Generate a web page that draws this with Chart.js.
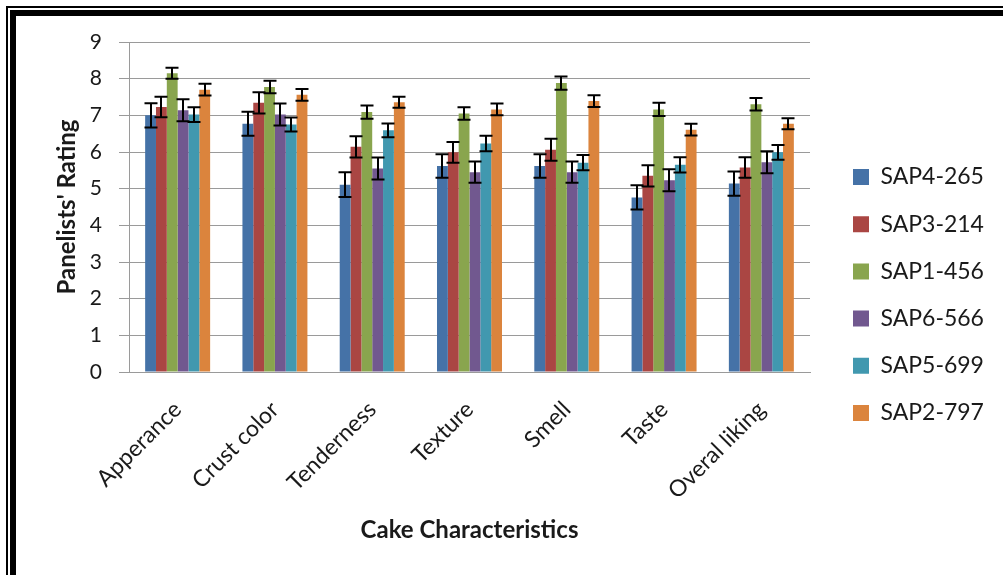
<!DOCTYPE html>
<html><head><meta charset="utf-8">
<script src="https://cdn.jsdelivr.net/npm/chart.js@4.4.1/dist/chart.umd.min.js"></script>
<style>
html,body{margin:0;padding:0;background:#fff;}
#wrap{position:relative;width:1003px;height:575px;overflow:hidden;background:#fff;}
canvas{position:absolute;left:0;top:0;}
.f{position:absolute;background:#000;}
</style></head><body>
<div id="wrap">
<canvas id="c" width="1003" height="575"></canvas>
<div class="f" style="left:6px;top:6px;width:997px;height:2px"></div>
<div class="f" style="left:6px;top:6px;width:2px;height:569px"></div>
<div class="f" style="left:10px;top:10px;width:993px;height:6px"></div>
<div class="f" style="left:10px;top:10px;width:6px;height:565px"></div>
</div>
<script>
const categories = ['Apperance','Crust color','Tenderness','Texture','Smell','Taste','Overal liking'];
const seriesNames = ['SAP4-265','SAP3-214','SAP1-456','SAP6-566','SAP5-699','SAP2-797'];
const sap4_265 = [7.00, 6.77, 5.11, 5.62, 5.62, 4.76, 5.14];
const sap3_214 = [7.23, 7.34, 6.14, 5.99, 6.06, 5.35, 5.58];
const sap1_456 = [8.15, 7.77, 7.09, 7.05, 7.88, 7.16, 7.30];
const sap6_566 = [7.14, 7.02, 5.55, 5.45, 5.45, 5.23, 5.72];
const sap5_699 = [7.02, 6.75, 6.59, 6.23, 5.71, 5.65, 5.99];
const sap2_797 = [7.70, 7.56, 7.36, 7.16, 7.39, 6.61, 6.77];
const err4_265 = [0.33, 0.33, 0.34, 0.32, 0.32, 0.33, 0.33];
const err3_214 = [0.28, 0.29, 0.29, 0.28, 0.30, 0.29, 0.28];
const err1_456 = [0.15, 0.17, 0.18, 0.17, 0.18, 0.18, 0.17];
const err6_566 = [0.30, 0.30, 0.30, 0.29, 0.29, 0.30, 0.30];
const err5_699 = [0.20, 0.19, 0.19, 0.21, 0.21, 0.21, 0.20];
const err2_797 = [0.16, 0.16, 0.15, 0.16, 0.16, 0.16, 0.15];
const yTicks = [0,1,2,3,4,5,6,7,8,9];

const colors = ['#4572A7','#AA4643','#89A54E','#71588F','#4198AF','#DB843D'];
const values = [sap4_265, sap3_214, sap1_456, sap6_566, sap5_699, sap2_797];
const errors = [err4_265, err3_214, err1_456, err6_566, err5_699, err2_797];

const FONT = 'Lato, "Open Sans", sans-serif';
const LEG_SIZE = 23, LEG_PAD = 24.2, LEG_BOX = 16;
const PLOT_RIGHT = 810;

const errorBars = {
  id: 'errorBars',
  afterDatasetsDraw(chart) {
    const ctx = chart.ctx, y = chart.scales.y;
    chart.data.datasets.forEach((ds, i) => {
      const meta = chart.getDatasetMeta(i);
      meta.data.forEach((bar, j) => {
        const v = ds.data[j], e = ds.errors[j];
        const yt = y.getPixelForValue(v + e), yb = y.getPixelForValue(v - e);
        const x = Math.round(bar.x);
        ctx.save();
        ctx.strokeStyle = '#000';
        ctx.lineWidth = 2;
        ctx.beginPath();
        ctx.moveTo(x, yt); ctx.lineTo(x, yb);
        ctx.moveTo(x - 6.5, yt); ctx.lineTo(x + 6.5, yt);
        ctx.moveTo(x - 6.5, yb); ctx.lineTo(x + 6.5, yb);
        ctx.stroke();
        ctx.restore();
      });
    });
  }
};

const legendFit = {
  id: 'legendFit',
  beforeLayout(chart) {
    const ctx = chart.ctx;
    ctx.save();
    ctx.font = LEG_SIZE + 'px ' + FONT;
    let w = 0;
    chart.data.datasets.forEach(d => { w = Math.max(w, ctx.measureText(d.label).width); });
    ctx.restore();
    const legW = 10 + LEG_PAD + LEG_BOX + LEG_SIZE / 2 + w;
    chart.options.layout.padding.right = Math.max(0, chart.width - PLOT_RIGHT - legW);
  },
  afterLayout(chart) {
    const lg = chart.legend;
    const dx = 853 - (lg.left + LEG_PAD);
    lg.left += dx; lg.right += dx;
    const dy = (177 - LEG_SIZE / 2) - (lg.top + LEG_PAD);
    lg.top += dy; lg.bottom += dy;
  }
};

new Chart(document.getElementById('c'), {
  type: 'bar',
  data: {
    labels: categories,
    datasets: seriesNames.map((name, i) => ({
      label: name,
      data: values[i],
      errors: errors[i],
      backgroundColor: colors[i],
      borderWidth: 0,
      categoryPercentage: 0.668,
      barPercentage: 1.0
    }))
  },
  options: {
    responsive: false,
    animation: false,
    devicePixelRatio: 1,
    layout: { padding: { left: 17, top: 42, right: 60, bottom: 0 } },
    plugins: {
      legend: {
        position: 'right',
        align: 'start',
        labels: {
          boxWidth: LEG_BOX, boxHeight: LEG_BOX, padding: LEG_PAD,
          color: '#1a1a1a',
          font: { family: FONT, size: LEG_SIZE }
        }
      },
      tooltip: { enabled: false }
    },
    scales: {
      x: {
        grid: { display: false, drawTicks: false },
        border: { display: true, color: '#9a9a9a', width: 1 },
        ticks: {
          color: '#1a1a1a', font: { family: FONT, size: 23 },
          maxRotation: 45, minRotation: 45, padding: 24, autoSkip: false
        },
        title: {
          display: true, text: 'Cake Characteristics', color: '#1a1a1a',
          font: { family: FONT, size: 24, weight: 'bold', lineHeight: 1.2 },
          padding: { top: 4, bottom: 30.6 }
        },
        afterFit(s) { s.height = 203; }
      },
      y: {
        min: 0, max: 9,
        afterBuildTicks(s) { s.ticks = yTicks.map(v => ({ value: v })); },
        grid: { color: '#9a9a9a', lineWidth: 1, tickLength: 10, drawTicks: true },
        border: { display: true, color: '#9a9a9a', width: 1 },
        ticks: { color: '#1a1a1a', font: { family: FONT, size: 21 }, padding: 17 },
        title: {
          display: true, text: "Panelists' Rating", color: '#1a1a1a',
          font: { family: FONT, size: 24, weight: 'bold', lineHeight: 1.2 },
          padding: { top: 35.6, bottom: 4 }
        },
        afterFit(s) { s.width = 112; }
      }
    }
  },
  plugins: [errorBars, legendFit]
});
</script>
</body></html>
